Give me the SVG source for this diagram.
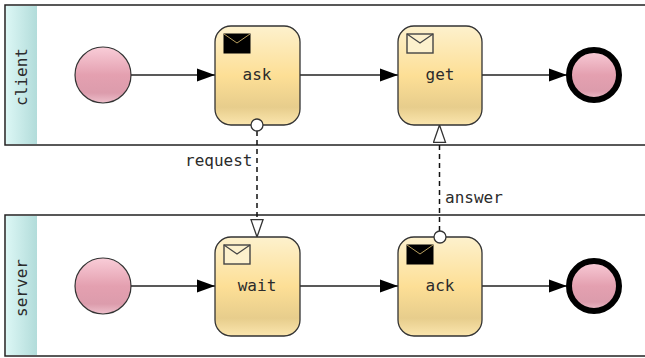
<svg xmlns="http://www.w3.org/2000/svg" width="645" height="358" viewBox="0 0 645 358">
<style>
text{font-family:"DejaVu Sans Mono","Liberation Mono",monospace;font-size:16px;fill:#2b2b2b}
.pool{fill:#fff;stroke:#222;stroke-width:1.5}
.band{fill:url(#gBand)}
.task{fill:url(#gTask);stroke:#333;stroke-width:1.3}
.ev{fill:url(#gEv);stroke:#333;stroke-width:1.2}
.end{fill:url(#gEv);stroke:#000;stroke-width:6}
.flow{fill:none;stroke:#222;stroke-width:1.5}
.msg{fill:none;stroke:#111;stroke-width:1.5;stroke-dasharray:5 4}
.port{fill:#fff;stroke:#333;stroke-width:1.3}
.env{fill:#fdf1cd;stroke:#444;stroke-width:1.4}
.envb{fill:#000;stroke:#000;stroke-width:1}
.flap{fill:none;stroke:#444;stroke-width:1.2}
.flapb{fill:none;stroke:#b9a060;stroke-width:1}
.c{text-anchor:middle}
</style>
<defs>
<linearGradient id="gBand" x1="0" y1="0" x2="1" y2="0"><stop offset="0" stop-color="#dcf7f5"/><stop offset="1" stop-color="#b2dcda"/></linearGradient>
<linearGradient id="gTask" x1="0" y1="0" x2="0" y2="1"><stop offset="0" stop-color="#fdf1cd"/><stop offset=".5" stop-color="#fddf96"/><stop offset=".82" stop-color="#e7cd8c"/><stop offset="1" stop-color="#fbe6ae"/></linearGradient>
<linearGradient id="gEv" x1="0" y1="0" x2="0" y2="1"><stop offset="0" stop-color="#f9cdd8"/><stop offset=".5" stop-color="#e4a0b0"/><stop offset=".82" stop-color="#dc9cac"/><stop offset="1" stop-color="#eec0cc"/></linearGradient>
<marker id="arrow" markerUnits="userSpaceOnUse" markerWidth="19" markerHeight="14" refX="18" refY="7" orient="auto"><path d="M0 0.5L18 7L0 13.5Z" fill="#000"/></marker>
<marker id="open" markerUnits="userSpaceOnUse" markerWidth="20" markerHeight="14" refX="18" refY="7" orient="auto"><path d="M0.7 1L18 7L0.7 13Z" fill="#fff" stroke="#333" stroke-width="1.3"/></marker>
</defs>
<g id="pool-client"><rect class="pool" x="5" y="5" width="645" height="140"/><rect class="band" x="6" y="6" width="31" height="138"/><text class="c" transform="translate(26.5 77) rotate(-90)">client</text></g>
<g id="pool-server"><rect class="pool" x="5" y="215" width="645" height="141"/><rect class="band" x="6" y="216" width="31" height="139"/><text class="c" transform="translate(26.5 288) rotate(-90)">server</text></g>
<g id="connectors">
<path class="flow" d="M131 75H215" marker-end="url(#arrow)"/>
<path class="flow" d="M300 75H398" marker-end="url(#arrow)"/>
<path class="flow" d="M482 75H567" marker-end="url(#arrow)"/>
<path class="flow" d="M131 286H215" marker-end="url(#arrow)"/>
<path class="flow" d="M300 286H398" marker-end="url(#arrow)"/>
<path class="flow" d="M482 286H567" marker-end="url(#arrow)"/>
<path class="msg" d="M257 131V237" marker-end="url(#open)"/>
<path class="msg" d="M439.5 231V125" marker-end="url(#open)"/>
<text x="185" y="166">request</text>
<text x="445" y="203">answer</text>
</g>
<g id="start-client"><circle class="ev" cx="103" cy="75" r="28"/></g>
<g id="ask"><rect class="task" x="215" y="26" width="85" height="99" rx="16"/><rect class="envb" x="224" y="34" width="26" height="19"/><path class="flapb" d="M224 34L237 43L250 34"/><text class="c" x="257" y="80">ask</text><circle class="port" cx="257" cy="125" r="6"/></g>
<g id="get"><rect class="task" x="398" y="26" width="84" height="99" rx="16"/><rect class="env" x="407" y="34" width="26" height="19"/><path class="flap" d="M407 34L420 43L433 34"/><text class="c" x="440" y="80">get</text></g>
<g id="end-client"><circle class="end" cx="594" cy="75" r="25"/></g>
<g id="start-server"><circle class="ev" cx="103" cy="286" r="28"/></g>
<g id="wait"><rect class="task" x="215" y="237" width="85" height="99" rx="16"/><rect class="env" x="224" y="245" width="26" height="19"/><path class="flap" d="M224 245L237 254L250 245"/><text class="c" x="257" y="291">wait</text></g>
<g id="ack"><rect class="task" x="398" y="237" width="84" height="99" rx="16"/><rect class="envb" x="407" y="245" width="26" height="19"/><path class="flapb" d="M407 245L420 254L433 245"/><text class="c" x="440" y="291">ack</text><circle class="port" cx="440" cy="237" r="6"/></g>
<g id="end-server"><circle class="end" cx="594" cy="286" r="25"/></g>
</svg>
